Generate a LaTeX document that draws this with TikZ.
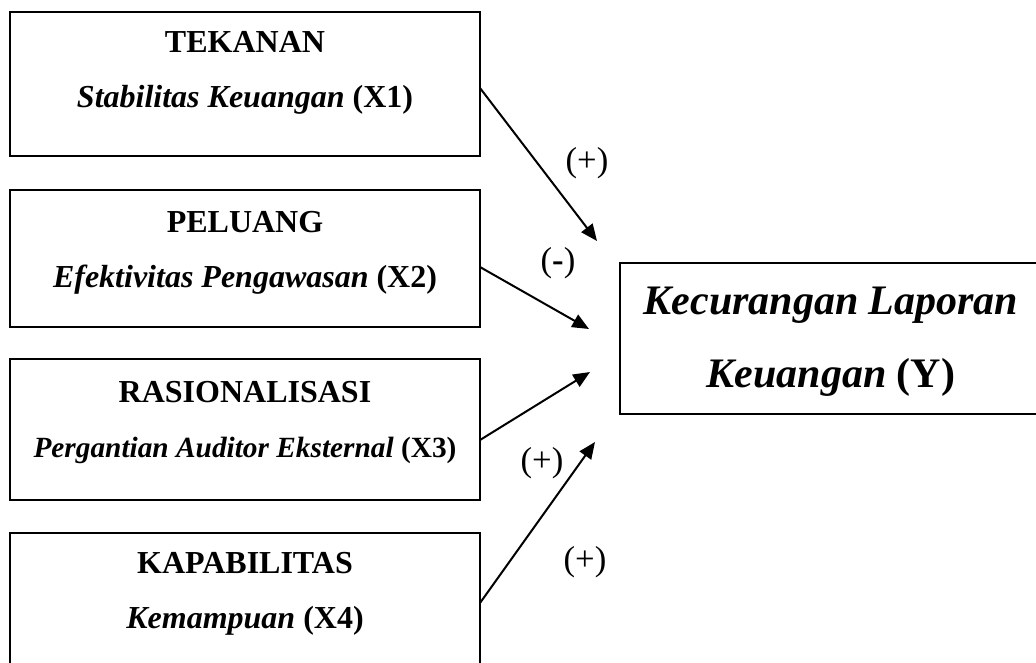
\documentclass[tikz,border=0pt]{standalone}
\usepackage{fontspec}
\setmainfont{Liberation Serif}
\usetikzlibrary{arrows.meta,calc}

\tikzset{every picture/.style={line width=1.5pt}}
\tikzset{
	box/.style={draw, rectangle, anchor=north west, inner sep=0pt, outer sep=0pt},
	hdr/.style={anchor=base, inner sep=0.75pt, font=\fontsize{24}{28}\selectfont\bfseries},
	var/.style={anchor=base, inner sep=0.75pt, font=\fontsize{24}{28}\selectfont\bfseries},
	dep/.style={anchor=base, inner sep=0.75pt, font=\fontsize{31.5}{36}\selectfont\bfseries},
	sgn/.style={inner sep=0.75pt, font=\fontsize{26}{30}\selectfont},
	arr/.style={-{Triangle[length=12.5pt,width=10.5pt]}}
}

\begin{document}
\begin{tikzpicture}[x=0.75pt,y=0.75pt,yscale=-1,xscale=1]
		\useasboundingbox (0,0) rectangle (1036,662);
		
		%Shape: Rectangle
		\node[box, minimum width=352.5pt, minimum height=108pt] (tekanan) at (10,12) {};
		%Shape: Rectangle
		\node[box, minimum width=352.5pt, minimum height=102.75pt] (peluang) at (10,190) {};
		%Shape: Rectangle
		\node[box, minimum width=352.5pt, minimum height=105.75pt] (rasional) at (10,359) {};
		%Shape: Rectangle
		\node[box, minimum width=352.5pt, minimum height=99pt] (kapabil) at (10,533) {};
		%Shape: Rectangle
		\node[box, minimum width=322.5pt, minimum height=113.25pt] (kecurangan) at (620,263) {};
		
		\coordinate (t1) at (597,241);
		\coordinate (t2) at (589,329);
		\coordinate (t3) at (590,372);
		\coordinate (t4) at (595,442);
		\draw[arr] ($(tekanan.north east)+(0,76)$) -- (t1);
		\draw[arr] ($(peluang.north east)+(0,77)$) -- (t2);
		\draw[arr] ($(rasional.north east)+(0,81)$) -- (t3);
		\draw[arr] ($(kapabil.north east)+(0,70)$) -- (t4);
		
		\node[hdr] (tekananA) at (245,52) {TEKANAN};
		\node[var] (tekananB) at (245,107) {{\itshape Stabilitas Keuangan} (X1)};
		\node[hdr] (peluangA) at (245,232) {PELUANG};
		\node[var] (peluangB) at (245,287) {{\itshape Efektivitas Pengawasan} (X2)};
		\node[hdr] (rasionalA) at (245,402) {RASIONALISASI};
		\node[var, font=\fontsize{22}{26}\selectfont\bfseries] (rasionalB) at (245,457) {{\itshape Pergantian Auditor Eksternal} (X3)};
		\node[hdr] (kapabilA) at (245,573) {KAPABILITAS};
		\node[var] (kapabilB) at (245,628) {{\itshape Kemampuan} (X4)};
		\node[dep] (kecuranganA) at (831,314) {\itshape Kecurangan Laporan};
		\node[dep] (kecuranganB) at (831,387) {{\itshape Keuangan} (Y)};
		
		\node[sgn] (sgnA) at (587,163) {(+)};
		\node[sgn] (sgnB) at (558,263) {(\textbf{-})};
		\node[sgn] (sgnC) at (542,463) {(+)};
		\node[sgn] (sgnD) at (585,562) {(+)};
		
\end{tikzpicture}
\end{document}
